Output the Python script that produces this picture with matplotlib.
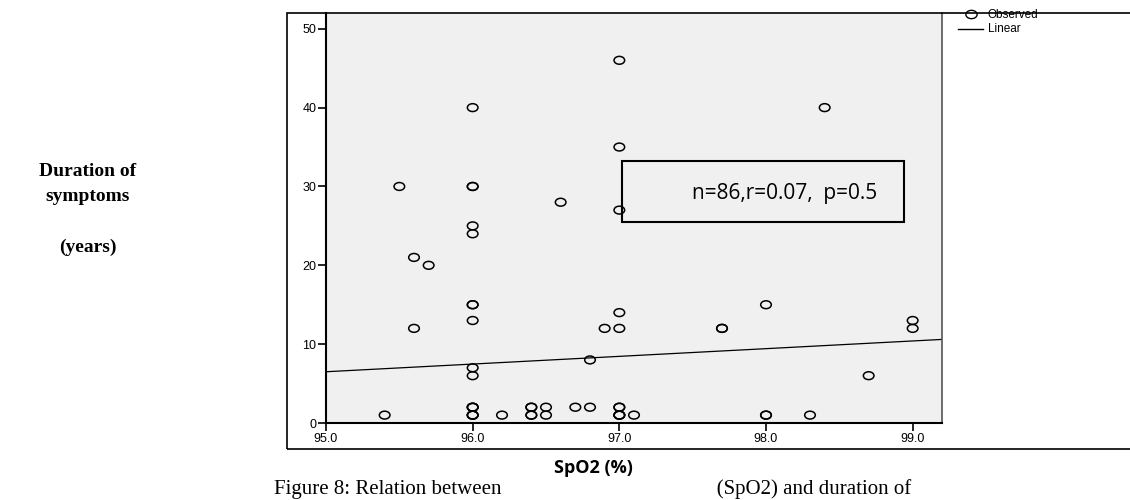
import matplotlib.pyplot as plt
from matplotlib.lines import Line2D
from matplotlib.patches import Rectangle
from matplotlib.markers import MarkerStyle
from matplotlib.transforms import Affine2D

x_vals = [95.4, 95.5, 95.6, 95.6, 95.7,
          96, 96, 96, 96, 96, 96, 96, 96, 96, 96, 96, 96, 96, 96, 96, 96,
          96.2, 96.4, 96.4, 96.4, 96.4, 96.5, 96.5, 96.6, 96.7, 96.8, 96.8, 96.9,
          97, 97, 97, 97, 97, 97, 97, 97, 97, 97, 97.1,
          97.7, 97.7, 98, 98, 98, 98.3, 98.4, 98.7, 99, 99]
y_vals = [1, 30, 21, 12, 20,
          40, 30, 30, 25, 24, 15, 15, 13, 7, 6, 2, 2, 2, 1, 1, 1,
          1, 2, 1, 2, 1, 2, 1, 28, 2, 2, 8, 12,
          46, 35, 27, 14, 12, 2, 2, 1, 1, 1, 1,
          12, 12, 15, 1, 1, 1, 40, 6, 13, 12]
fit_x = [95.0, 99.2]
fit_y = [6.5, 10.6]

plt.rcParams['font.family'] = 'Liberation Sans'
W, H = 1130, 500
fig = plt.figure(figsize=(W/100, H/100), dpi=100)
fig.add_artist(Rectangle((287/W, 1-449/H), 900/W, 436/H, transform=fig.transFigure,
                         fill=False, lw=1.2, ec='black'))
ax = fig.add_axes([326/W, 1-423/H, (942-326)/W, (423-13)/H])
ax.set_facecolor('#f0f0f0')
ell = MarkerStyle('o', transform=Affine2D().scale(1.35, 1.0))
ax.scatter(x_vals, y_vals, s=32, marker=ell, facecolors='none', edgecolors='black',
           linewidths=1.1, zorder=3)
ax.plot(fit_x, fit_y, color='black', lw=0.9)
ax.set_xlim(95.0, 99.2)
ax.set_ylim(0, 52)
ax.set_xticks([95, 96, 97, 98, 99])
ax.set_xticklabels(['95.0', '96.0', '97.0', '98.0', '99.0'])
ax.set_yticks([0, 10, 20, 30, 40, 50])
ax.tick_params(labelsize=9, length=6, width=1.2, pad=1)
for s in ['top', 'right']:
    ax.spines[s].set_visible(False)
for s in ['left', 'bottom']:
    ax.spines[s].set_linewidth(1.5)
ax.plot([1, 1], [0, 1], transform=ax.transAxes, color='#555555', lw=1.2, clip_on=False)

fig.add_artist(Rectangle((622/W, 1-222/H), (904-622)/W, 61/H, transform=fig.transFigure,
                         fill=False, lw=1.5, ec='black'))
fig.text(785/W, 1-193/H, 'n=86,r=0.07,  p=0.5', fontsize=15, family='Open Sans',
         ha='center', va='center')

fig.add_artist(Line2D([971/W], [1-14/H], marker=ell, mfc='none', mec='black', ms=6))
fig.text(988/W, 1-15/H, 'Observed', fontsize=8.5, va='center')
fig.add_artist(Line2D([958/W, 983/W], [1-29/H, 1-29/H], color='black', lw=1))
fig.text(988/W, 1-29/H, 'Linear', fontsize=8.5, va='center')

fig.text(88/W, 1-184/H, 'Duration of\nsymptoms', fontsize=14, fontweight='bold',
         family='Liberation Serif', ha='center', va='center', linespacing=1.6)
fig.text(88/W, 1-247/H, '(years)', fontsize=14, fontweight='bold',
         family='Liberation Serif', ha='center', va='center')
fig.text(593/W, 1-489/H, 'Figure 8: Relation between                                         (SpO2) and duration of',
         fontsize=15, family='Liberation Serif', ha='center', va='center')
fig.text(593/W, 1-468/H, 'SpO2 (%)', fontsize=13, fontweight='bold', family='Open Sans',
         ha='center', va='center', bbox=dict(fc='white', ec='none', pad=1))
fig.savefig('out.png', dpi=100)
